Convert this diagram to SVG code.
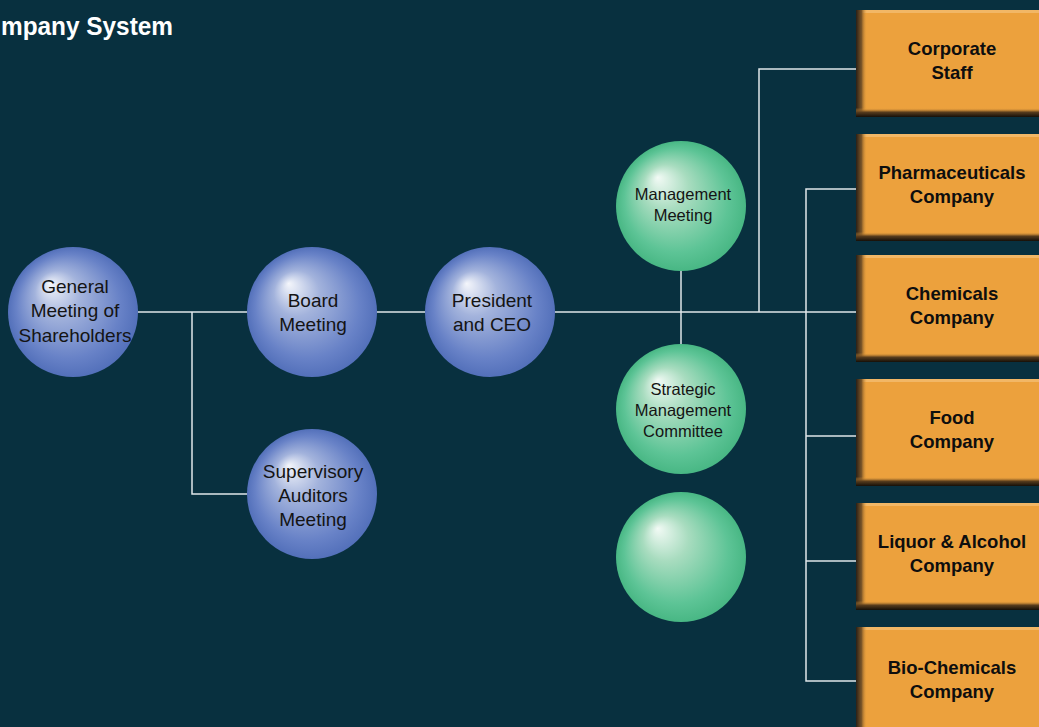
<svg xmlns="http://www.w3.org/2000/svg" width="1039" height="727" viewBox="0 0 1039 727">
<defs>
<radialGradient id="gBlue" cx="0.5" cy="0.5" r="0.5" fx="0.32" fy="0.28">
<stop offset="0" stop-color="#f4f6fb"/>
<stop offset="0.35" stop-color="#a3b3dc"/>
<stop offset="0.8" stop-color="#6882c7"/>
<stop offset="1" stop-color="#5370ba"/>
</radialGradient>
<radialGradient id="gGreen" cx="0.5" cy="0.5" r="0.5" fx="0.32" fy="0.28">
<stop offset="0" stop-color="#f2faf5"/>
<stop offset="0.35" stop-color="#a8dcbf"/>
<stop offset="0.8" stop-color="#5dc496"/>
<stop offset="1" stop-color="#48b784"/>
</radialGradient>
<linearGradient id="gLeft" x1="0" y1="0" x2="1" y2="0">
<stop offset="0" stop-color="#2a2016"/>
<stop offset="0.5" stop-color="#7a5528"/>
<stop offset="1" stop-color="#eca13d" stop-opacity="0"/>
</linearGradient>
<linearGradient id="gBottom" x1="0" y1="0" x2="0" y2="1">
<stop offset="0" stop-color="#eca13d" stop-opacity="0"/>
<stop offset="0.45" stop-color="#5a3e1e"/>
<stop offset="1" stop-color="#150f08"/>
</linearGradient>
<style>
.bg{fill:#08303f}
.ln{stroke:#dfe6ea;stroke-width:1.5;fill:none}
.cb{fill:url(#gBlue)}
.cg{fill:url(#gGreen)}
.box{fill:#eca13d}
.top{fill:#f2b766}
.lt{fill:url(#gLeft)}
.bt{fill:url(#gBottom)}
.ct{font-family:"Liberation Sans",Arial,sans-serif;font-size:19px;fill:#141414;text-anchor:middle}
.cs{font-family:"Liberation Sans",Arial,sans-serif;font-size:16.5px;fill:#141414;text-anchor:middle}
.bx{font-family:"Liberation Sans",Arial,sans-serif;font-size:18.5px;font-weight:bold;fill:#0e0e0e;text-anchor:middle}
.title{font-family:"Liberation Sans",Arial,sans-serif;font-size:26px;font-weight:bold;fill:#ffffff}
</style>
</defs>
<rect class="bg" x="0" y="0" width="1039" height="727"/>
<text class="title" x="1" y="35" textLength="172" lengthAdjust="spacingAndGlyphs">mpany System</text>

<g id="connectors">
<line class="ln" x1="138" y1="312" x2="247" y2="312"/>
<line class="ln" x1="377" y1="312" x2="425" y2="312"/>
<line class="ln" x1="555" y1="312" x2="858" y2="312"/>
<polyline class="ln" points="192,312 192,494 247,494"/>
<line class="ln" x1="681" y1="271" x2="681" y2="344"/>
<polyline class="ln" points="759,312 759,69 858,69"/>
<polyline class="ln" points="858,189 806,189 806,681 858,681"/>
<line class="ln" x1="806" y1="436" x2="858" y2="436"/>
<line class="ln" x1="806" y1="561" x2="858" y2="561"/>
</g>

<g id="general">
<circle class="cb" cx="73" cy="312" r="65"/>
<text class="ct" x="75" y="293">General</text>
<text class="ct" x="75" y="317">Meeting of</text>
<text class="ct" x="75" y="342">Shareholders</text>
</g>
<g id="board">
<circle class="cb" cx="312" cy="312" r="65"/>
<text class="ct" x="313" y="307">Board</text>
<text class="ct" x="313" y="331">Meeting</text>
</g>
<g id="president">
<circle class="cb" cx="490" cy="312" r="65"/>
<text class="ct" x="492" y="307">President</text>
<text class="ct" x="492" y="331">and CEO</text>
</g>
<g id="supervisory">
<circle class="cb" cx="312" cy="494" r="65"/>
<text class="ct" x="313" y="478">Supervisory</text>
<text class="ct" x="313" y="502">Auditors</text>
<text class="ct" x="313" y="526">Meeting</text>
</g>
<g id="management">
<circle class="cg" cx="681" cy="206" r="65"/>
<text class="cs" x="683" y="200">Management</text>
<text class="cs" x="683" y="221">Meeting</text>
</g>
<g id="strategic">
<circle class="cg" cx="681" cy="409" r="65"/>
<text class="cs" x="683" y="395">Strategic</text>
<text class="cs" x="683" y="416">Management</text>
<text class="cs" x="683" y="437">Committee</text>
</g>
<g id="blank">
<circle class="cg" cx="681" cy="557" r="65"/>
</g>

<g id="corporate">
<rect class="box" x="856" y="10" width="190" height="107"/>
<rect class="top" x="856" y="10" width="190" height="3"/>
<rect class="lt" x="856" y="10" width="11" height="107"/>
<rect class="bt" x="856" y="108" width="190" height="9"/>
<text class="bx" x="952" y="55">Corporate</text>
<text class="bx" x="952" y="79">Staff</text>
</g>
<g id="pharma">
<rect class="box" x="856" y="134" width="190" height="107"/>
<rect class="top" x="856" y="134" width="190" height="3"/>
<rect class="lt" x="856" y="134" width="11" height="107"/>
<rect class="bt" x="856" y="232" width="190" height="9"/>
<text class="bx" x="952" y="179">Pharmaceuticals</text>
<text class="bx" x="952" y="203">Company</text>
</g>
<g id="chemicals">
<rect class="box" x="856" y="255" width="190" height="107"/>
<rect class="top" x="856" y="255" width="190" height="3"/>
<rect class="lt" x="856" y="255" width="11" height="107"/>
<rect class="bt" x="856" y="353" width="190" height="9"/>
<text class="bx" x="952" y="300">Chemicals</text>
<text class="bx" x="952" y="324">Company</text>
</g>
<g id="food">
<rect class="box" x="856" y="379" width="190" height="107"/>
<rect class="top" x="856" y="379" width="190" height="3"/>
<rect class="lt" x="856" y="379" width="11" height="107"/>
<rect class="bt" x="856" y="477" width="190" height="9"/>
<text class="bx" x="952" y="424">Food</text>
<text class="bx" x="952" y="448">Company</text>
</g>
<g id="liquor">
<rect class="box" x="856" y="503" width="190" height="107"/>
<rect class="top" x="856" y="503" width="190" height="3"/>
<rect class="lt" x="856" y="503" width="11" height="107"/>
<rect class="bt" x="856" y="601" width="190" height="9"/>
<text class="bx" x="952" y="548">Liquor &amp; Alcohol</text>
<text class="bx" x="952" y="572">Company</text>
</g>
<g id="biochem">
<rect class="box" x="856" y="627" width="190" height="107"/>
<rect class="top" x="856" y="627" width="190" height="3"/>
<rect class="lt" x="856" y="627" width="11" height="107"/>
<text class="bx" x="952" y="674">Bio-Chemicals</text>
<text class="bx" x="952" y="698">Company</text>
</g>
</svg>
